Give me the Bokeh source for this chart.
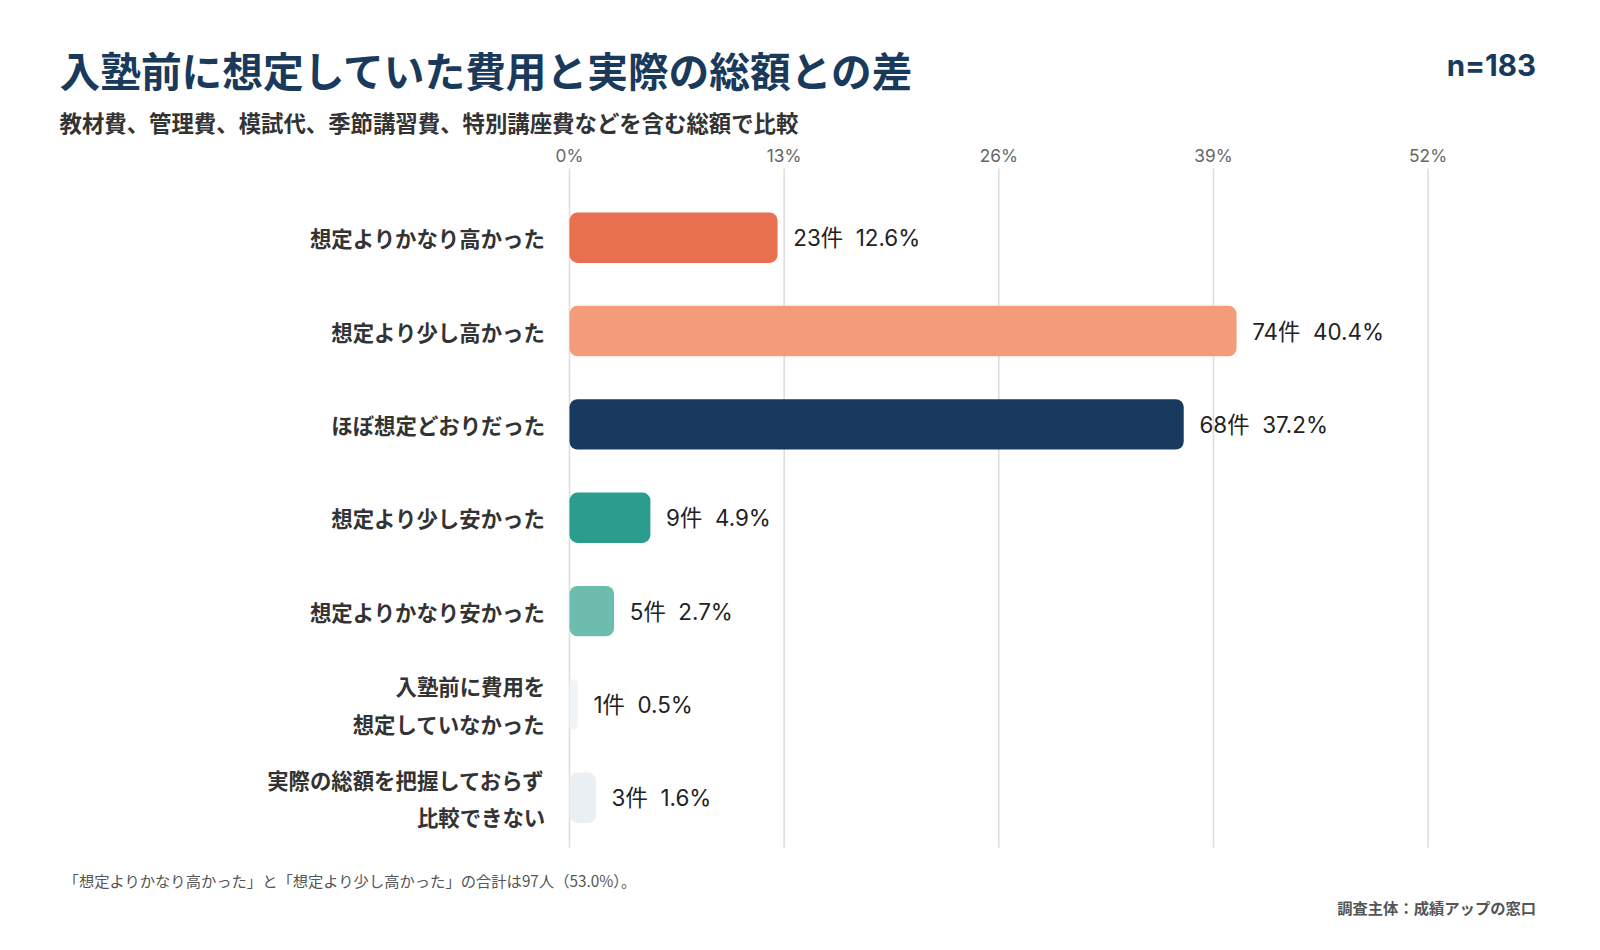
from bokeh.plotting import figure
from bokeh.models import Range1d, ColumnDataSource
from bokeh.core.properties import value
from bokeh.embed import file_html
from bokeh.resources import INLINE

categories = ["想定よりかなり高かった", "想定より少し高かった", "ほぼ想定どおりだった", "想定より少し安かった",
              "想定よりかなり安かった", "入塾前に費用を\n想定していなかった", "実際の総額を把握しておらず\n比較できない"]
counts = [23, 74, 68, 9, 5, 1, 3]
percents = [12.6, 40.4, 37.2, 4.9, 2.7, 0.5, 1.6]
colors = ["#e8704f", "#f29c7a", "#173a5e", "#2a9d8f", "#6dbcad", "#f1f4f7", "#eaeff4"]
ticks = [0, 13, 26, 39, 52]

FONT = "Inter, 'Noto Sans CJK JP'"
JP = "Noto Sans CJK JP"
W, H = 1584, 930
FX0 = 569.0
PX = (1427.6 - 569.0) / 52
RY0 = 237.2
PY = 93.35

def ip(ref):  # reference pixel -> internal canvas pixel
    return (ref + 7.8) / 0.982 - 8
def dx(ref): return (ip(ref) - FX0) / PX
def dy(ref): return (ip(ref) - RY0) / PY
def fs(px): return f"{px / 0.982:.1f}px"

p = figure(width=W, height=H, output_backend="svg", toolbar_location=None,
           x_range=Range1d(-FX0 / PX, (W - FX0) / PX),
           y_range=Range1d((H - RY0) / PY, -RY0 / PY),
           min_border=0)
p.outline_line_color = None
p.axis.visible = False
p.grid.visible = False

# grid lines and tick labels
gsrc = ColumnDataSource(dict(x=ticks, y0=[dy(165)] * len(ticks), y1=[dy(832)] * len(ticks),
                             ty=[dy(152)] * len(ticks), t=[f"{t}%" for t in ticks]))
p.segment(x0="x", x1="x", y0="y0", y1="y1", source=gsrc, line_color="#dcdcdc", line_width=1.5)
p.text(x="x", y="ty", text="t", source=gsrc, text_font=value(FONT), text_font_size=fs(17),
       text_color="#666666", text_align="center", text_baseline="middle")

ys = list(range(len(categories)))
src = ColumnDataSource(dict(y=ys, v=percents, c=colors, cat=categories,
                            lab=[f"{n}件\u00a0\u00a0{v}%" for n, v in zip(counts, percents)],
                            lx=[v + 0.95 for v in percents], cx=[dx(535)] * len(ys)))
p.hbar(y="y", right="v", left=0, height=0.54, fill_color="c", line_color=None,
       border_radius=8, source=src)
p.text(x="lx", y="y", text="lab", source=src, text_font=value(FONT), text_font_size=fs(22),
       text_color="#222222", text_baseline="middle")
p.text(x="cx", y="y", text="cat", source=src, text_font=value(JP), text_font_size=fs(21),
       text_font_style="bold", text_color="#333333", text_baseline="middle", text_align="right",
       text_line_height=1.2)

def lab(text, px, py, size, color, style="bold", align="left", font=JP):
    p.text(x=[dx(px)], y=[dy(py)], text=[text], text_font=value(font), text_font_size=fs(size),
           text_color=color, text_font_style=style, text_align=align, text_baseline="middle")

lab("入塾前に想定していた費用と実際の総額との差", 58, 68, 40, "#1a3a5c")
lab("教材費、管理費、模試代、季節講習費、特別講座費などを含む総額で比較", 58, 119, 22, "#333333")
lab("n=183", 1508, 63, 29, "#1a3a5c", align="right", font=FONT)
lab("「想定よりかなり高かった」と「想定より少し高かった」の合計は97人（53.0%）。", 62, 864, 15, "#555555", style="normal")
lab("調査主体：成績アップの窓口", 1508, 890, 15, "#555555", align="right")

open("out.html", "w").write(file_html(p, INLINE))
